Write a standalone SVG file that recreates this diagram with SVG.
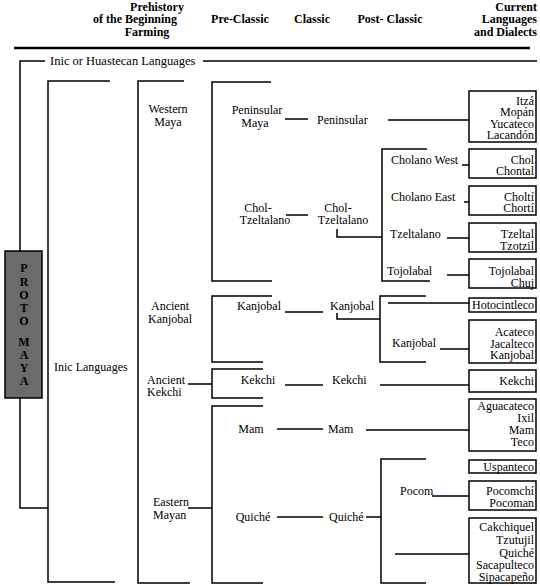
<svg xmlns="http://www.w3.org/2000/svg" width="540" height="586" viewBox="0 0 540 586">
<style>
text{font-family:"Liberation Serif","Times New Roman",serif;font-size:12px;fill:#000}
.h{font-weight:bold}
.m{text-anchor:middle}
.r{text-anchor:end}
.ln{fill:none;stroke:#000;stroke-width:1.5}
.bx{fill:#fff;stroke:#000;stroke-width:1.5}
</style>
<rect width="540" height="586" fill="#fff"/>
<g id="header">
<text class="h m" x="157" y="11">Prehistory</text>
<text class="h m" x="135" y="23">of the Beginning</text>
<text class="h m" x="147" y="36">Farming</text>
<text class="h m" x="240" y="23">Pre-Classic</text>
<text class="h m" x="312" y="23">Classic</text>
<text class="h m" x="390" y="23">Post- Classic</text>
<text class="h r" x="537" y="11">Current</text>
<text class="h r" x="537" y="23">Languages</text>
<text class="h r" x="537" y="36">and Dialects</text>
</g>
<g id="connectors" class="ln">
<path d="M14 48H530" stroke-width="2.5"/>
<path d="M45 61H20V251M203 61H537"/>
<path d="M20 398V508H48"/>
<path d="M110 81H48V582H115"/>
<path d="M184 81H138V583H190"/>
<path d="M271 82H212V281H272"/>
<path d="M272 296H212V362H263"/>
<path d="M263 369H212V398H263M188 384H212"/>
<path d="M263 406H212V583H263M188 508H212"/>
<path d="M285 119H308M388 120H469"/>
<path d="M286 215H308M337 229V237H382"/>
<path d="M427 149H382V281H430"/>
<path d="M462 165H469M464 202H469M447 238H469M447 275H469"/>
<path d="M285 312H323M337 313V319H380"/>
<path d="M426 296H380V362H426"/>
<path d="M388 303H469M440 349H469"/>
<path d="M285 385H323M380 385H469"/>
<path d="M277 429H323M366 430H469"/>
<path d="M277 517H323M366 517H381"/>
<path d="M426 459H381V583H426"/>
<path d="M432 496H469M395 554H469"/>
</g>
<g id="proto-maya">
<rect x="5" y="251" width="37" height="147" fill="#6b6b6b" stroke="#000" stroke-width="1.5"/>
<text class="h m" x="24" y="272">P</text>
<text class="h m" x="24" y="286">R</text>
<text class="h m" x="24" y="299">O</text>
<text class="h m" x="24" y="312">T</text>
<text class="h m" x="24" y="325">O</text>
<text class="h m" x="24" y="346">M</text>
<text class="h m" x="24" y="359">A</text>
<text class="h m" x="24" y="372">Y</text>
<text class="h m" x="24" y="385">A</text>
</g>
<g id="inic-huastecan"><text x="50" y="65" style="font-size:12.5px">Inic or Huastecan Languages</text></g>
<g id="inic-languages"><text x="54" y="371">Inic Languages</text></g>
<g id="western-maya"><text class="m" x="168" y="113">Western</text><text class="m" x="168" y="126">Maya</text></g>
<g id="ancient-kanjobal"><text class="m" x="170" y="310">Ancient</text><text class="m" x="170" y="323">Kanjobal</text></g>
<g id="ancient-kekchi"><text x="147" y="384">Ancient</text><text x="147" y="396">Kekchi</text></g>
<g id="eastern-mayan"><text x="153" y="506">Eastern</text><text x="153" y="519">Mayan</text></g>
<g id="peninsular-maya"><text class="m" x="257" y="114">Peninsular</text><text class="m" x="255" y="127">Maya</text></g>
<g id="peninsular"><text x="317" y="124">Peninsular</text></g>
<g id="chol-tzeltalano-pre"><text class="m" x="258" y="212">Chol-</text><text class="m" x="265" y="224">Tzeltalano</text></g>
<g id="chol-tzeltalano"><text class="m" x="338" y="212">Chol-</text><text class="m" x="343" y="224">Tzeltalano</text></g>
<g id="cholano-west"><text x="391" y="164">Cholano West</text></g>
<g id="cholano-east"><text x="391" y="201">Cholano East</text></g>
<g id="tzeltalano"><text x="390" y="238">Tzeltalano</text></g>
<g id="tojolabal"><text x="387" y="275">Tojolabal</text></g>
<g id="kanjobal-pre"><text class="m" x="259" y="310">Kanjobal</text></g>
<g id="kanjobal-classic"><text x="330" y="310">Kanjobal</text></g>
<g id="kanjobal-post"><text x="392" y="347">Kanjobal</text></g>
<g id="kekchi-pre"><text class="m" x="258" y="384">Kekchi</text></g>
<g id="kekchi-classic"><text x="332" y="384">Kekchi</text></g>
<g id="mam-pre"><text class="m" x="251" y="433">Mam</text></g>
<g id="mam-classic"><text x="328" y="433">Mam</text></g>
<g id="quiche-pre"><text class="m" x="253" y="521">Quiché</text></g>
<g id="quiche-classic"><text x="329" y="521">Quiché</text></g>
<g id="pocom"><text x="400" y="495">Pocom</text></g>
<g id="box-yucatecan"><rect class="bx" x="469" y="91" width="67" height="51"/>
<text class="r" x="534" y="105">Itzá</text><text class="r" x="534" y="116">Mopán</text><text class="r" x="534" y="128">Yucateco</text><text class="r" x="534" y="139">Lacandón</text></g>
<g id="box-chol"><rect class="bx" x="469" y="149" width="67" height="29"/>
<text class="r" x="534" y="164">Chol</text><text class="r" x="534" y="175">Chontal</text></g>
<g id="box-cholti"><rect class="bx" x="469" y="186" width="67" height="29"/>
<text class="r" x="534" y="201">Choltí</text><text class="r" x="534" y="212">Chortí</text></g>
<g id="box-tzeltal"><rect class="bx" x="469" y="223" width="67" height="29"/>
<text class="r" x="534" y="238">Tzeltal</text><text class="r" x="534" y="250">Tzotzil</text></g>
<g id="box-tojolabal"><rect class="bx" x="469" y="259" width="67" height="29"/>
<text class="r" x="534" y="275">Tojolabal</text><text class="r" x="534" y="287">Chuj</text></g>
<g id="box-hotocintleco"><rect class="bx" x="469" y="298" width="67" height="14"/>
<text class="r" x="534" y="309">Hotocintleco</text></g>
<g id="box-acateco"><rect class="bx" x="469" y="320" width="67" height="43"/>
<text class="r" x="534" y="336">Acateco</text><text class="r" x="534" y="348">Jacalteco</text><text class="r" x="534" y="359">Kanjobal</text></g>
<g id="box-kekchi"><rect class="bx" x="469" y="370" width="67" height="22"/>
<text class="r" x="534" y="385">Kekchi</text></g>
<g id="box-mam"><rect class="bx" x="469" y="399" width="67" height="52"/>
<text class="r" x="534" y="410">Aguacateco</text><text class="r" x="534" y="422">Ixil</text><text class="r" x="534" y="434">Mam</text><text class="r" x="534" y="446">Teco</text></g>
<g id="box-uspanteco"><rect class="bx" x="469" y="460" width="67" height="13"/>
<text class="r" x="534" y="471">Uspanteco</text></g>
<g id="box-pocomchi"><rect class="bx" x="469" y="481" width="67" height="29"/>
<text class="r" x="534" y="495">Pocomchí</text><text class="r" x="534" y="507">Pocoman</text></g>
<g id="box-cakchiquel"><rect class="bx" x="469" y="518" width="67" height="65"/>
<text class="r" x="534" y="531">Cakchiquel</text><text class="r" x="534" y="544">Tzutujil</text><text class="r" x="534" y="557">Quiché</text><text class="r" x="534" y="569">Sacapulteco</text><text class="r" x="534" y="581">Sipacapeño</text></g>
</svg>
